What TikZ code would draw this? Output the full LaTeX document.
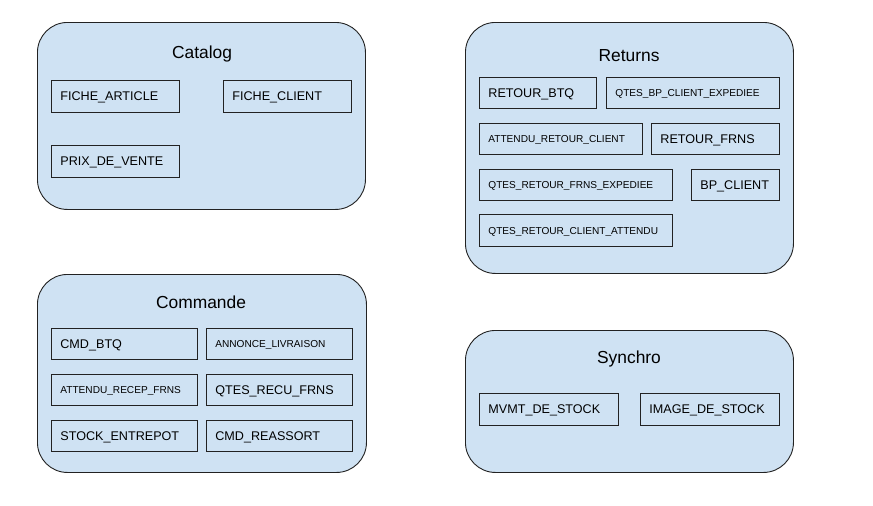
\documentclass[tikz,border=0pt]{standalone}
\usepackage{fontspec}
\setmainfont{Liberation Sans}
\definecolor{paleblue}{HTML}{CFE2F3}
\definecolor{edge}{HTML}{222222}
\tikzset{
  container/.style={draw=edge, line width=0.9pt, fill=paleblue, rounded corners=30pt, anchor=north west, inner sep=0pt},
  title/.style={font=\fontsize{17.4}{20}\selectfont, text=black, anchor=center, inner sep=0pt, text height=12.5pt, text depth=0pt},
  box/.style={draw=edge, line width=0.8pt, fill=paleblue, anchor=north west, inner xsep=9pt, inner ysep=0pt, align=left, text=black},
  big/.style={font=\fontsize{12.6}{14}\selectfont, text height=9pt, text depth=0pt},
  small/.style={font=\fontsize{10.1}{12}\selectfont, text height=7.2pt, text depth=0pt},
}
\begin{document}
\begin{tikzpicture}[x=1pt,y=-1pt]
\useasboundingbox (0,0) rectangle (873,506);
% containers
\node[container, minimum width=328pt, minimum height=187pt] (catalog) at (37,22) {};
\node[container, minimum width=328pt, minimum height=251pt] (returns) at (465,22) {};
\node[container, minimum width=329pt, minimum height=198pt] (commande) at (37,274) {};
\node[container, minimum width=328pt, minimum height=142pt] (synchro) at (465,330) {};
% titles
\node[title] (tcat) at (202,52.7) {Catalog};
\node[title] (tret) at (629,55) {Returns};
\node[title] (tcmd) at (201,302.7) {Commande};
\node[title] (tsyn) at (629,357.5) {Synchro};
% Catalog
\node[box, big, text width=110pt, minimum height=32pt] (fa) at (51,80) {FICHE\_ARTICLE};
\node[box, big, text width=110pt, minimum height=32pt] (fc) at (223,80) {FICHE\_CLIENT};
\node[box, big, text width=110pt, minimum height=32pt] (pv) at (51,145) {PRIX\_DE\_VENTE};
% Returns
\node[box, big, text width=99pt, minimum height=31pt] (rb) at (479,77) {RETOUR\_BTQ};
\node[box, small, text width=155pt, minimum height=31pt] (qbce) at (606,77) {QTES\_BP\_CLIENT\_EXPEDIEE};
\node[box, small, text width=145pt, minimum height=31pt] (arc) at (479,123) {ATTENDU\_RETOUR\_CLIENT};
\node[box, big, text width=110pt, minimum height=31pt] (rf) at (651,123) {RETOUR\_FRNS};
\node[box, small, text width=175pt, minimum height=31pt] (qrfe) at (479,169) {QTES\_RETOUR\_FRNS\_EXPEDIEE};
\node[box, big, text width=70pt, minimum height=31pt] (bpc) at (691,169) {BP\_CLIENT};
\node[box, small, text width=175pt, minimum height=32pt] (qrca) at (479,214) {QTES\_RETOUR\_CLIENT\_ATTENDU};
% Commande
\node[box, big, text width=128pt, minimum height=31pt] (cb) at (51,328) {CMD\_BTQ};
\node[box, small, text width=128pt, minimum height=31pt] (al) at (206,328) {ANNONCE\_LIVRAISON};
\node[box, small, text width=128pt, minimum height=31pt] (arf) at (51,374) {ATTENDU\_RECEP\_FRNS};
\node[box, big, text width=128pt, minimum height=31pt] (qrf) at (206,374) {QTES\_RECU\_FRNS};
\node[box, big, text width=128pt, minimum height=31pt] (se) at (51,420) {STOCK\_ENTREPOT};
\node[box, big, text width=128pt, minimum height=31pt] (cr) at (206,420) {CMD\_REASSORT};
% Synchro
\node[box, big, text width=121pt, minimum height=32pt] (mds) at (479,393) {MVMT\_DE\_STOCK};
\node[box, big, text width=121pt, minimum height=32pt] (ids) at (640,393) {IMAGE\_DE\_STOCK};
\end{tikzpicture}
\end{document}
